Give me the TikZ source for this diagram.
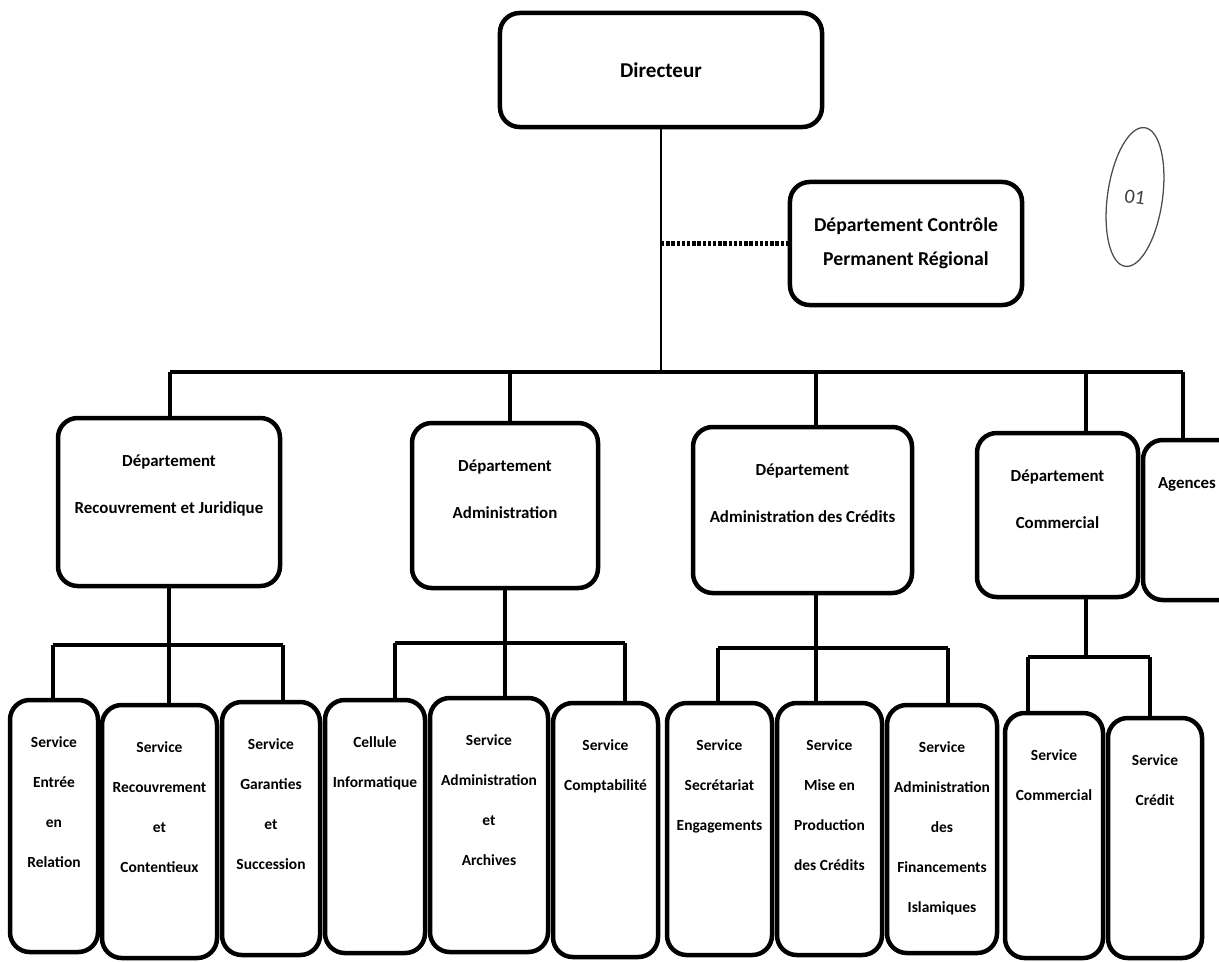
\documentclass[tikz,border=0pt]{standalone}
\usepackage{fontspec}
\setmainfont{Carlito}
\usepackage{tikz}
\usetikzlibrary{positioning}
\usetikzlibrary{shapes.geometric}
\newlength{\pxu}
\setlength{\pxu}{0.025cm}
% width, height, first baseline, lines
\newcommand{\cellbox}[4]{\parbox[c][#2\pxu][t]{#1\pxu}{\centering\rule{0pt}{#3\pxu}#4}}
\tikzset{%
  orgbox/.style = {rectangle,draw,line width=3.2pt,rounded corners=14pt,
        inner sep=0pt,fill=white},
  topbox/.style = {orgbox,align=center},
  deptbox/.style = {orgbox,font=\fontsize{12}{34}\selectfont\bfseries},
  svcbox/.style = {orgbox,font=\fontsize{11}{28.5}\selectfont\bfseries},
  link/.style = {line width=2.4pt},
  dotlink/.style = {line width=3pt,dash pattern=on 2.4pt off 1.3pt}
}

\begin{document}
\begin{tikzpicture}[x=0.025cm,y=-0.025cm]
\useasboundingbox (0,0) rectangle (1219,962);
\clip (0,0) rectangle (1219,962);

% direction
\node[topbox,minimum width=8.05cm,minimum height=2.85cm,
      font=\fontsize{15}{18}\selectfont\bfseries] (dir) at (661,70) {Directeur};
\node[topbox,minimum width=5.8cm,minimum height=3.075cm,
      font=\fontsize{14}{24.2}\selectfont\bfseries] (ctrl) at (906,243.5)
      {Département Contrôle\\Permanent Régional};
\node[ellipse,draw=black!70,line width=0.9pt,minimum width=1.375cm,
      minimum height=3.5cm,rotate=-8,font=\Large,text=black!75] (num)
      at (1135,197) {01};

% departements
\node[deptbox] (d1) at (169,502)
      {\cellbox{222}{168}{48}{Département\\Recouvrement et Juridique}};
\node[deptbox] (d2) at (505,505.5)
      {\cellbox{186}{165}{48}{Département\\Administration}};
\node[deptbox] (d3) at (802.5,510)
      {\cellbox{219}{166}{48}{Département\\Administration des Crédits}};
\node[deptbox] (d4) at (1057.5,515)
      {\cellbox{161}{164}{48}{Département\\Commercial}};
\node[deptbox] (ag) at (1216.5,520)
      {\parbox[c][160\pxu][t]{147\pxu}{\rule{0pt}{48\pxu}\hspace{15\pxu}Agences}};

% services
\node[svcbox] (s1) at (54,826)
      {\cellbox{88}{252}{47}{Service\\Entrée\\en\\Relation}};
\node[svcbox] (s2) at (159.5,831.5)
      {\cellbox{115}{253}{47}{Service\\Recouvrement\\et\\Contentieux}};
\node[svcbox] (s3) at (271,828.5)
      {\cellbox{98}{253}{47}{Service\\Garanties\\et\\Succession}};
\node[svcbox] (s4) at (375,826.5)
      {\cellbox{100}{253}{47}{Cellule\\Informatique}};
\node[svcbox] (s5) at (489,825)
      {\cellbox{118}{254}{47}{Service\\Administration\\et\\Archives}};
\node[svcbox] (s6) at (605.5,830)
      {\cellbox{105}{254}{47}{Service\\Comptabilité}};
\node[svcbox] (s7) at (719.5,829)
      {\cellbox{105}{252}{47}{Service\\Secrétariat\\Engagements}};
\node[svcbox] (s8) at (829.5,829)
      {\cellbox{105}{252}{47}{Service\\Mise en\\Production\\des Crédits}};
\node[svcbox] (s9) at (942,829)
      {\cellbox{110}{248}{47}{Service\\Administration\\des\\Financements\\Islamiques}};
\node[svcbox] (s10) at (1054,835.5)
      {\cellbox{98}{245}{47}{Service\\Commercial}};
\node[svcbox] (s11) at (1155,838)
      {\cellbox{94}{240}{47}{Service\\Crédit}};

% liaisons niveau 1
\coordinate (busw) at (170,372);
\coordinate (buse) at (1183,372);
\coordinate (k2) at (510,372);
\coordinate (k3) at (816,372);
\coordinate (k4) at (1086,372);
\draw[link,line width=1.5pt] (dir.south) -- (dir.south |- busw);
\draw[dotlink] (dir.south |- ctrl.west) -- (ctrl.west);
\draw[link] (busw) -- (buse);
\draw[link] (busw) -- (busw |- d1.north);
\draw[link] (k2) -- (k2 |- d2.north);
\draw[link] (k3) -- (k3 |- d3.north);
\draw[link] (k4) -- (k4 |- d4.north);
\draw[link] (buse) -- (buse |- ag.north);

% liaisons niveau 2
\coordinate (b1w) at (53,645);
\coordinate (b1e) at (283,645);
\draw[link] (d1.south) -- (d1.south |- b1w);
\draw[link] (b1w) -- (b1e);
\draw[link] (b1w) -- (b1w |- s1.north);
\draw[link] (d1.south |- b1w) -- (d1.south |- s2.north);
\draw[link] (b1e) -- (b1e |- s3.north);

\coordinate (b2w) at (395,643);
\coordinate (b2e) at (625,643);
\draw[link] (d2.south) -- (d2.south |- b2w);
\draw[link] (b2w) -- (b2e);
\draw[link] (b2w) -- (b2w |- s4.north);
\draw[link] (d2.south |- b2w) -- (d2.south |- s5.north);
\draw[link] (b2e) -- (b2e |- s6.north);

\coordinate (b3w) at (718,648);
\coordinate (b3e) at (948,648);
\draw[link] (k3 |- d3.south) -- (k3 |- b3w);
\draw[link] (b3w) -- (b3e);
\draw[link] (b3w) -- (b3w |- s7.north);
\draw[link] (k3 |- b3w) -- (k3 |- s8.north);
\draw[link] (b3e) -- (b3e |- s9.north);

\coordinate (b4w) at (1028,657);
\coordinate (b4e) at (1150,657);
\draw[link] (k4 |- d4.south) -- (k4 |- b4w);
\draw[link] (b4w) -- (b4e);
\draw[link] (b4w) -- (b4w |- s10.north);
\draw[link] (b4e) -- (b4e |- s11.north);
\end{tikzpicture}
\end{document}
